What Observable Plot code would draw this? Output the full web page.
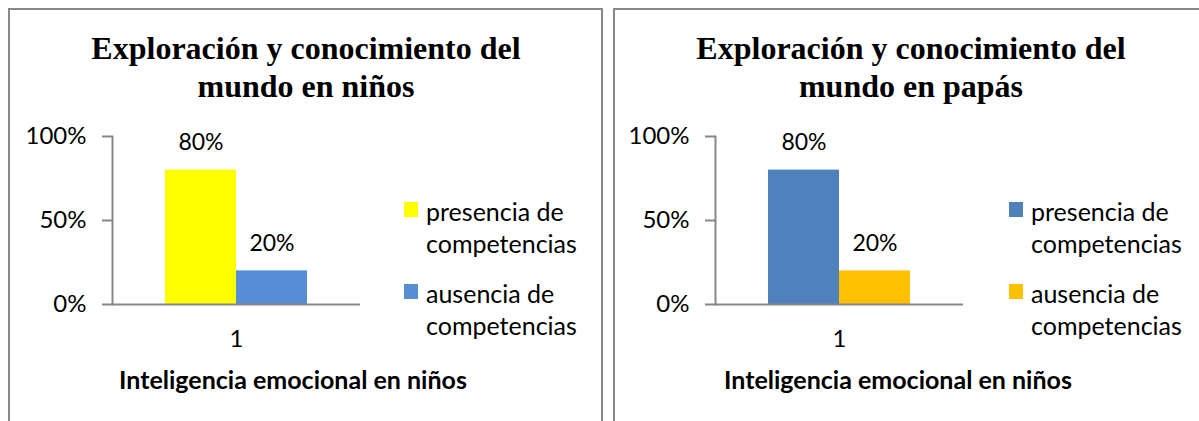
<!DOCTYPE html>
<html>
<head>
<meta charset="utf-8">
<script src="https://cdn.jsdelivr.net/npm/d3@7"></script>
<script src="https://cdn.jsdelivr.net/npm/@observablehq/plot@0.6"></script>
<style>
  html, body { margin: 0; padding: 0; background: #fff; }
  #root { position: relative; width: 1199px; height: 421px; overflow: hidden; background: #fff; font-family: Lato, sans-serif; color: #000; }
  .panel { position: absolute; top: 8px; height: 430px; border: 2px solid #888; box-sizing: border-box; }
  .title { position: absolute; top: 29px; width: 470px; text-align: center; font-family: "Liberation Serif", serif; font-weight: bold; font-size: 32px; line-height: 38px; }
  .plot { position: absolute; top: 120px; }
  .legend { position: absolute; top: 195px; width: 180px; font-size: 25px; line-height: 32px; }
  .item { position: relative; margin-bottom: 18px; }
  .swatch { position: absolute; left: -22px; top: 7px; width: 14px; height: 15px; }
  .xtitle { position: absolute; top: 364px; width: 420px; text-align: center; font-weight: bold; font-size: 25px; line-height: 30px; }
</style>
</head>
<body>
<div id="root"></div>
<script>
// ---- data ----
const categories = ["1"];
const seriesNames = ["presencia de competencias", "ausencia de competencias"];
const valuesNinos = [0.80, 0.20];
const valuesPapas = [0.80, 0.20];
const yTicks = [0, 0.5, 1];
const titles = ["Exploración y conocimiento del mundo en niños", "Exploración y conocimiento del mundo en papás"];
const xAxisTitles = ["Inteligencia emocional en niños", "Inteligencia emocional en niños"];
const colorsNinos = ["#FFFF00", "#558ED5"];
const colorsPapas = ["#4F81BD", "#FFC000"];

const pct = d3.format(".0%");

function chart(values, colors) {
  const data = seriesNames.map((s, i) => ({cat: categories[0], series: s, value: values[i]}));
  return Plot.plot({
    width: 380, height: 240,
    marginLeft: 112, marginRight: 20, marginTop: 16, marginBottom: 56,
    style: {fontFamily: "Lato, sans-serif", fontSize: "24px", color: "#000", background: "transparent", overflow: "visible"},
    fx: {domain: categories, padding: 0, label: null},
    x: {domain: seriesNames, paddingInner: 0, paddingOuter: 0.734, axis: null},
    y: {domain: [0, 1]},
    color: {domain: seriesNames, range: colors},
    marks: [
      Plot.barY(data, {fx: "cat", x: "series", y: "value", fill: "series"}),
      Plot.frame({anchor: "left", stroke: "#878787", strokeWidth: 2}),
      Plot.ruleY([0], {stroke: "#878787", strokeWidth: 2}),
      Plot.axisY({ticks: yTicks, tickFormat: pct, tickSize: 10, tickPadding: 16, stroke: "#878787", strokeWidth: 2, fill: "#000", strokeOpacity: 1, label: null, fontSize: 24}),
      Plot.axisFx({anchor: "bottom", tickSize: 0, tickPadding: 25, label: null, fontSize: 24, fill: "#000"}),
      Plot.text(data, {fx: "cat", x: "series", y: "value", text: d => pct(d.value), dy: -27, lineAnchor: "middle", fontSize: 23, fill: "#000"})
    ]
  });
}

const root = document.getElementById("root");
const panelDefs = [
  {values: valuesNinos, colors: colorsNinos, title: titles[0], xt: xAxisTitles[0], panelLeft: 8, svgLeft: 0, off: 0},
  {values: valuesPapas, colors: colorsPapas, title: titles[1], xt: xAxisTitles[1], panelLeft: 613, svgLeft: 603, off: 605}
];

panelDefs.forEach(p => {
  const panel = document.createElement("div");
  panel.className = "panel";
  panel.style.left = p.panelLeft + "px";
  panel.style.width = "595px";
  root.appendChild(panel);

  const t = document.createElement("div");
  t.className = "title";
  t.style.left = (p.off + 306 - 235) + "px";
  t.textContent = p.title;
  root.appendChild(t);

  const svg = chart(p.values, p.colors);
  svg.classList.add("plot");
  svg.style.left = p.svgLeft + "px";
  root.appendChild(svg);

  const lg = document.createElement("div");
  lg.className = "legend";
  lg.style.left = (p.off + 426) + "px";
  seriesNames.forEach((s, i) => {
    const it = document.createElement("div");
    it.className = "item";
    const sw = document.createElement("div");
    sw.className = "swatch";
    sw.style.background = p.colors[i];
    it.appendChild(sw);
    it.appendChild(document.createTextNode(s));
    lg.appendChild(it);
  });
  root.appendChild(lg);

  const xt = document.createElement("div");
  xt.className = "xtitle";
  xt.style.left = (p.off + 293 - 210) + "px";
  xt.textContent = p.xt;
  root.appendChild(xt);
});
</script>
</body>
</html>
